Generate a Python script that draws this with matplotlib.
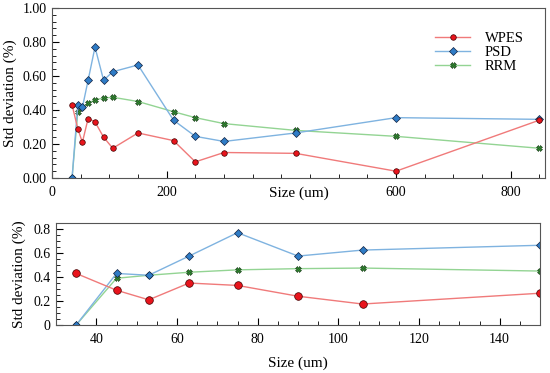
import numpy as np
import matplotlib.pyplot as plt
from matplotlib.ticker import AutoMinorLocator, FormatStrFormatter

plt.rcParams['font.family'] = ['Liberation Serif', 'DejaVu Serif']

sizes = [35, 45, 53, 63, 75, 90, 106, 150, 212, 250, 300, 425, 600, 850]
wpes = [0.43, 0.29, 0.21, 0.35, 0.33, 0.24, 0.175, 0.265, 0.22, 0.095, 0.15, 0.145, 0.04, 0.34]
psd = [0.0, 0.43, 0.415, 0.575, 0.77, 0.575, 0.625, 0.665, 0.34, 0.245, 0.215, 0.265, 0.355, 0.345]
rrm = [0.0, 0.39, 0.415, 0.44, 0.46, 0.47, 0.475, 0.45, 0.39, 0.355, 0.32, 0.28, 0.245, 0.175]

red_line, red_mk = '#f07a7a', '#e8141c'
blue_line, blue_mk = '#7fb3e0', '#2f7cc6'
green_line, green_mk = '#93d493', '#2e8b2e'

fig = plt.figure(figsize=(5.5, 3.73), dpi=100)
ax1 = fig.add_axes([52/550, 1 - 178/373, 493/550, 170/373])
ax2 = fig.add_axes([56/550, 1 - 325/373, 484/550, 102.5/373])

# top panel
g, = ax1.plot(sizes, rrm, '-X', color=green_line, mfc=green_mk, mec='#103010', ms=4, mew=0.4, lw=1, label='RRM')
b, = ax1.plot(sizes, psd, '-D', color=blue_line, mfc=blue_mk, mec='#102040', ms=4, mew=0.5, lw=1, label='PSD')
r, = ax1.plot(sizes, wpes, '-o', color=red_line, mfc=red_mk, mec='#400000', ms=4, mew=0.5, lw=1, label='WPES')
ax1.set_xlim(0, 860)
ax1.set_ylim(0, 1.0)
ax1.set_xticks([0, 200, 600, 800])
ax1.set_xticklabels(['0', '200', '600', '800'])
ax1.set_yticks([0, 0.2, 0.4, 0.6, 0.8, 1.0])
ax1.yaxis.set_major_formatter(FormatStrFormatter('%.2f'))
ax1.xaxis.set_minor_locator(AutoMinorLocator(4))
ax1.yaxis.set_minor_locator(AutoMinorLocator(5))
ax1.set_ylabel('Std deviation (%)', fontsize=11, labelpad=4)
ax1.text(430, -0.09, 'Size (um)', fontsize=11, ha='center', va='center')
ax1.legend(handles=[r, b, g], loc='upper left', bbox_to_anchor=(428/550, 1 - 25/373),
           bbox_transform=fig.transFigure, frameon=False, fontsize=10.5,
           handlelength=2.4, handletextpad=1.0, labelspacing=0.05, borderpad=0)

# bottom panel
ax2.plot(sizes, rrm, '-X', color=green_line, mfc=green_mk, mec='#103010', ms=4, mew=0.4, lw=1)
ax2.plot(sizes, psd, '-D', color=blue_line, mfc=blue_mk, mec='#102040', ms=4, mew=0.5, lw=1)
ax2.plot(sizes, wpes, '-o', color=red_line, mfc=red_mk, mec='#400000', ms=5.5, mew=0.5, lw=1)
ax2.set_xlim(30, 150)
ax2.set_ylim(0, 0.855)
ax2.set_xticks([40, 60, 80, 100, 120, 140])
ax2.set_yticks([0, 0.2, 0.4, 0.6, 0.8])
ax2.set_yticklabels(['0', '0.2', '0.4', '0.6', '0.8'])
ax2.xaxis.set_minor_locator(AutoMinorLocator(4))
ax2.yaxis.set_minor_locator(AutoMinorLocator(4))
ax2.set_ylabel('Std deviation (%)', fontsize=11, labelpad=5)
ax2.set_xlabel('Size (um)', fontsize=11, labelpad=7)

for ax in (ax1, ax2):
    ax.tick_params(which='both', direction='in', labelsize=10, pad=4)
    ax.tick_params(axis='x', which='major', pad=6)
    ax.tick_params(which='major', length=5, width=0.8)
    ax.tick_params(which='minor', length=3, width=0.6)
    ax.tick_params(axis='x', which='both', top=False)
    ax.tick_params(axis='y', which='both', right=False)
    for s in ax.spines.values():
        s.set_color('#555555')
        s.set_linewidth(0.8)

fig.savefig('out.png', dpi=100)
